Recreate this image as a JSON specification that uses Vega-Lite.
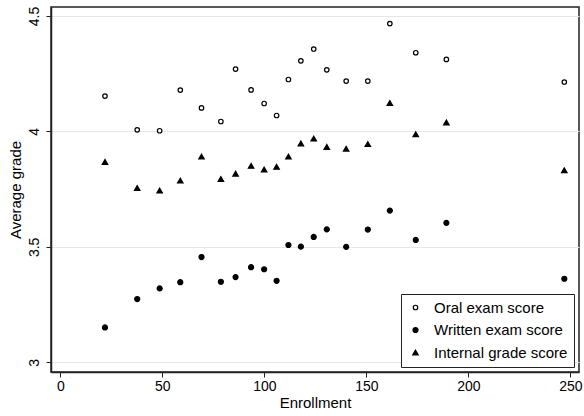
{
  "$schema": "https://vega.github.io/schema/vega-lite/v6.json",
  "width": 528,
  "height": 365,
  "autosize": {"type": "none"},
  "padding": {"left": 51, "top": 7, "right": 5, "bottom": 44},
  "background": "white",
  "config": {
    "font": "Liberation Sans",
    "view": {"stroke": "#222", "strokeWidth": 1.5},
    "axis": {
      "domainColor": "#222", "domainWidth": 1.5,
      "tickColor": "#222", "tickSize": 5, "tickWidth": 1,
      "labelFont": "Liberation Sans", "labelFontSize": 14, "labelColor": "#000",
      "titleFont": "Liberation Sans", "titleFontSize": 15, "titleFontWeight": "normal", "titleColor": "#000"
    },
    "legend": {
      "labelFont": "Liberation Sans", "labelFontSize": 15, "labelColor": "#000"
    }
  },
  "data": {
    "values": [
      {"enrollment": 21.9, "series": "Oral exam score", "grade": 4.153},
      {"enrollment": 37.7, "series": "Oral exam score", "grade": 4.007},
      {"enrollment": 48.7, "series": "Oral exam score", "grade": 4.003},
      {"enrollment": 58.8, "series": "Oral exam score", "grade": 4.179},
      {"enrollment": 69.2, "series": "Oral exam score", "grade": 4.102},
      {"enrollment": 78.7, "series": "Oral exam score", "grade": 4.043},
      {"enrollment": 85.9, "series": "Oral exam score", "grade": 4.270},
      {"enrollment": 93.5, "series": "Oral exam score", "grade": 4.180},
      {"enrollment": 99.9, "series": "Oral exam score", "grade": 4.121},
      {"enrollment": 106.0, "series": "Oral exam score", "grade": 4.069},
      {"enrollment": 111.8, "series": "Oral exam score", "grade": 4.225},
      {"enrollment": 117.9, "series": "Oral exam score", "grade": 4.306},
      {"enrollment": 124.2, "series": "Oral exam score", "grade": 4.357},
      {"enrollment": 130.6, "series": "Oral exam score", "grade": 4.267},
      {"enrollment": 140.1, "series": "Oral exam score", "grade": 4.218},
      {"enrollment": 150.7, "series": "Oral exam score", "grade": 4.218},
      {"enrollment": 161.5, "series": "Oral exam score", "grade": 4.467},
      {"enrollment": 174.2, "series": "Oral exam score", "grade": 4.341},
      {"enrollment": 189.2, "series": "Oral exam score", "grade": 4.312},
      {"enrollment": 247.0, "series": "Oral exam score", "grade": 4.214},
      {"enrollment": 21.9, "series": "Written exam score", "grade": 3.151},
      {"enrollment": 37.7, "series": "Written exam score", "grade": 3.274},
      {"enrollment": 48.7, "series": "Written exam score", "grade": 3.320},
      {"enrollment": 58.8, "series": "Written exam score", "grade": 3.347},
      {"enrollment": 69.2, "series": "Written exam score", "grade": 3.456},
      {"enrollment": 78.7, "series": "Written exam score", "grade": 3.349},
      {"enrollment": 85.9, "series": "Written exam score", "grade": 3.369},
      {"enrollment": 93.5, "series": "Written exam score", "grade": 3.412},
      {"enrollment": 99.9, "series": "Written exam score", "grade": 3.403},
      {"enrollment": 106.0, "series": "Written exam score", "grade": 3.353},
      {"enrollment": 111.8, "series": "Written exam score", "grade": 3.508},
      {"enrollment": 117.9, "series": "Written exam score", "grade": 3.501},
      {"enrollment": 124.2, "series": "Written exam score", "grade": 3.543},
      {"enrollment": 130.6, "series": "Written exam score", "grade": 3.576},
      {"enrollment": 140.1, "series": "Written exam score", "grade": 3.500},
      {"enrollment": 150.7, "series": "Written exam score", "grade": 3.575},
      {"enrollment": 161.5, "series": "Written exam score", "grade": 3.657},
      {"enrollment": 174.2, "series": "Written exam score", "grade": 3.530},
      {"enrollment": 189.2, "series": "Written exam score", "grade": 3.604},
      {"enrollment": 247.0, "series": "Written exam score", "grade": 3.362},
      {"enrollment": 21.9, "series": "Internal grade score", "grade": 3.868},
      {"enrollment": 37.7, "series": "Internal grade score", "grade": 3.755},
      {"enrollment": 48.7, "series": "Internal grade score", "grade": 3.744},
      {"enrollment": 58.8, "series": "Internal grade score", "grade": 3.787},
      {"enrollment": 69.2, "series": "Internal grade score", "grade": 3.891},
      {"enrollment": 78.7, "series": "Internal grade score", "grade": 3.794},
      {"enrollment": 85.9, "series": "Internal grade score", "grade": 3.817},
      {"enrollment": 93.5, "series": "Internal grade score", "grade": 3.851},
      {"enrollment": 99.9, "series": "Internal grade score", "grade": 3.835},
      {"enrollment": 106.0, "series": "Internal grade score", "grade": 3.847},
      {"enrollment": 111.8, "series": "Internal grade score", "grade": 3.891},
      {"enrollment": 117.9, "series": "Internal grade score", "grade": 3.948},
      {"enrollment": 124.2, "series": "Internal grade score", "grade": 3.969},
      {"enrollment": 130.6, "series": "Internal grade score", "grade": 3.933},
      {"enrollment": 140.1, "series": "Internal grade score", "grade": 3.925},
      {"enrollment": 150.7, "series": "Internal grade score", "grade": 3.945},
      {"enrollment": 161.5, "series": "Internal grade score", "grade": 4.123},
      {"enrollment": 174.2, "series": "Internal grade score", "grade": 3.988},
      {"enrollment": 189.2, "series": "Internal grade score", "grade": 4.039},
      {"enrollment": 247.0, "series": "Internal grade score", "grade": 3.832}
    ]
  },
  "mark": {"type": "point", "filled": true, "stroke": "#000", "strokeWidth": 1.2, "opacity": 1},
  "encoding": {
    "x": {
      "field": "enrollment", "type": "quantitative",
      "scale": {"domain": [-4.55, 254.2], "nice": false, "zero": false},
      "axis": {"values": [0, 50, 100, 150, 200, 250], "grid": false, "title": "Enrollment", "labelPadding": 2, "titlePadding": 2}
    },
    "y": {
      "field": "grade", "type": "quantitative",
      "scale": {"domain": [2.958, 4.539], "nice": false, "zero": false},
      "axis": {
        "values": [3, 3.5, 4, 4.5], "format": "~g", "grid": true, "gridColor": "#e6e6e6", "gridWidth": 1,
        "title": "Average grade", "labelAngle": -90, "labelAlign": "center", "labelBaseline": "bottom",
        "labelPadding": 5, "titlePadding": 4
      }
    },
    "shape": {
      "field": "series", "type": "nominal",
      "scale": {"domain": ["Oral exam score", "Written exam score", "Internal grade score"], "range": ["circle", "circle", "triangle-up"]},
      "legend": {
        "title": null, "orient": "bottom-right", "offset": 5, "padding": 6,
        "strokeColor": "#222", "fillColor": "white", "rowPadding": 6.5, "symbolOffset": 1, "labelOffset": 11, "symbolStrokeWidth": 1.2
      }
    },
    "fill": {
      "field": "series", "type": "nominal",
      "scale": {"domain": ["Oral exam score", "Written exam score", "Internal grade score"], "range": ["white", "black", "black"]},
      "legend": {
        "title": null, "orient": "bottom-right", "offset": 5, "padding": 6,
        "strokeColor": "#222", "fillColor": "white", "rowPadding": 6.5, "symbolOffset": 1, "labelOffset": 11, "symbolStrokeWidth": 1.2
      }
    },
    "size": {
      "field": "series", "type": "nominal",
      "scale": {"domain": ["Oral exam score", "Written exam score", "Internal grade score"], "range": [20, 30, 45]},
      "legend": {
        "title": null, "orient": "bottom-right", "offset": 5, "padding": 6,
        "strokeColor": "#222", "fillColor": "white", "rowPadding": 6.5, "symbolOffset": 1, "labelOffset": 11, "symbolStrokeWidth": 1.2
      }
    }
  }
}
